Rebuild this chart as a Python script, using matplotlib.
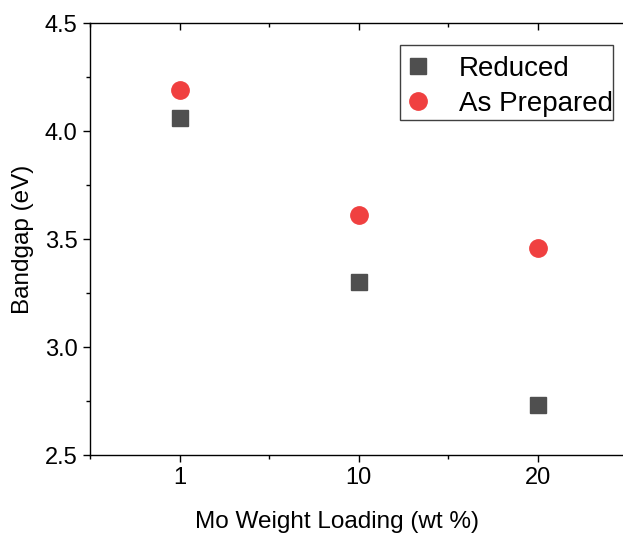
import matplotlib
matplotlib.use("Agg")
import matplotlib.pyplot as plt
from matplotlib.ticker import MultipleLocator, FixedLocator
from matplotlib.patches import Rectangle

plt.rcParams['font.family'] = ['Liberation Sans', 'DejaVu Sans']

loading_labels = ["1", "10", "20"]
reduced = [4.06, 3.30, 2.73]
as_prepared = [4.19, 3.61, 3.46]

W, H = 623, 535
fig = plt.figure(figsize=(W / 100, H / 100), dpi=100)
ax = fig.add_axes([90 / W, 1 - 455 / H, 537.5 / W, 432 / H])

x = list(range(1, len(loading_labels) + 1))
ax.plot(x, reduced, linestyle='none', marker='s', markersize=11.5,
        color='#4f4f4f', label='Reduced')
ax.plot(x, as_prepared, linestyle='none', marker='o', markersize=12.5,
        color='#f04040', label='As Prepared')

ax.set_xlim(0.5, 3.5)
ax.set_ylim(2.5, 4.5)
ax.xaxis.set_major_locator(FixedLocator(x))
ax.set_xticklabels(loading_labels)
ax.xaxis.set_minor_locator(MultipleLocator(0.5))
ax.yaxis.set_major_locator(MultipleLocator(0.5))
ax.yaxis.set_minor_locator(MultipleLocator(0.25))
ax.yaxis.set_major_formatter(plt.FormatStrFormatter('%.1f'))

ax.spines['right'].set_visible(False)
for s in ax.spines.values():
    s.set_linewidth(1.0)

ax.tick_params(axis='both', which='major', direction='out', length=5,
               width=1.0, labelsize=17, pad=4)
ax.tick_params(axis='both', which='minor', direction='out', length=3, width=1.0)
ax.tick_params(axis='x', which='both', top=True)
# top ticks point inward while bottom/left ticks point outward
for t in ax.xaxis.get_major_ticks() + ax.xaxis.get_minor_ticks():
    t.tick2line.set_marker(matplotlib.lines.TICKDOWN)

ax.set_xlabel('Mo Weight Loading (wt %)', fontsize=17.5)
ax.xaxis.set_label_coords((337 - 90) / 537.5, -0.13, transform=ax.transAxes)
ax.xaxis.label.set_verticalalignment('top')
ax.set_ylabel('Bandgap (eV)', fontsize=17.5, labelpad=8)

# legend entries without their own frame; a tight box is drawn around them
leg = ax.legend(loc='upper left', bbox_to_anchor=(408 / W, 1 - 55.5 / H),
                bbox_transform=fig.transFigure, borderaxespad=0,
                fontsize=20, frameon=False, handletextpad=1.1,
                borderpad=0, labelspacing=0.33, handlelength=0.72)
fig.patches.append(Rectangle((400 / W, 1 - 120 / H), 213 / W, 75 / H,
                             transform=fig.transFigure, fill=False,
                             edgecolor='#404040', linewidth=1.0))

fig.savefig('out.png', dpi=100)
